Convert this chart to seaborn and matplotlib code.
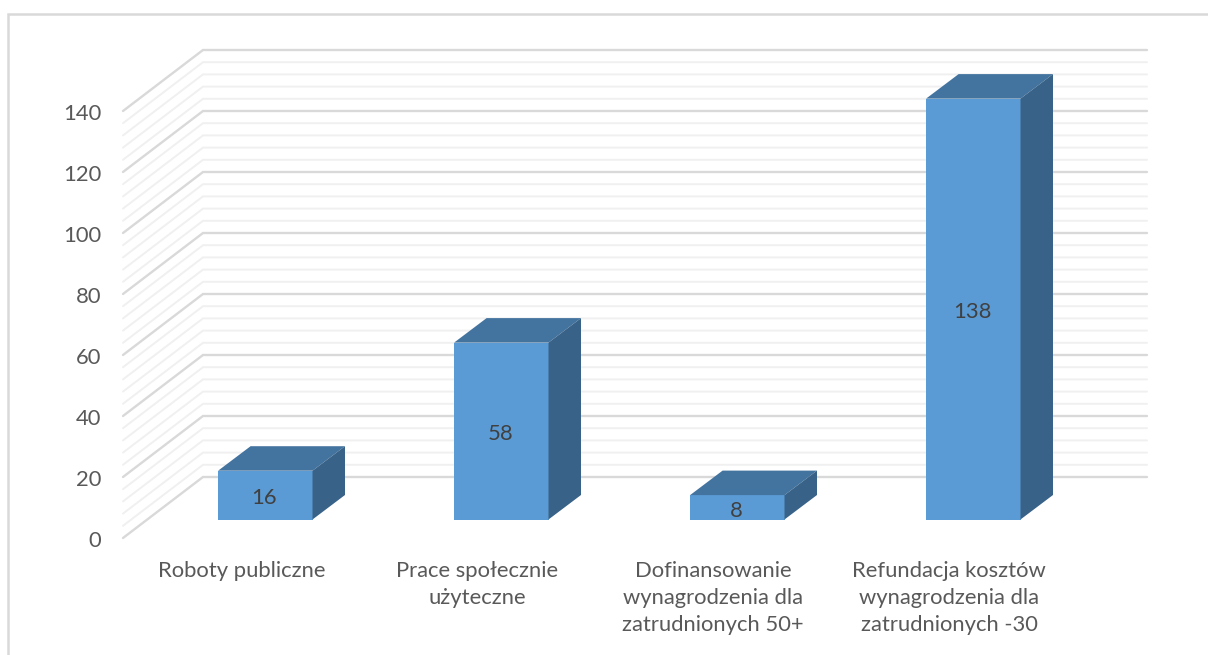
import matplotlib
matplotlib.use("Agg")
import matplotlib.pyplot as plt
import numpy as np
import seaborn as sns
from matplotlib.lines import Line2D
from matplotlib.patches import Polygon
from matplotlib.transforms import Affine2D

categories = ["Roboty publiczne", "Prace społecznie\nużyteczne",
              "Dofinansowanie\nwynagrodzenia dla\nzatrudnionych 50+",
              "Refundacja kosztów\nwynagrodzenia dla\nzatrudnionych -30"]
values = [16, 58, 8, 138]
major_ticks = [0, 20, 40, 60, 80, 100, 120, 140]
minor_step = 4

W, H = 1208, 655
FRONT, TOP, SIDE = "#5B9BD5", "#43739F", "#386287"
MAJOR, MINOR, TEXT, LABEL = "#D9D9D9", "#F0F0F0", "#595959", "#404040"
FS = 15.8

sns.set_theme(style="white")
plt.rcParams["font.family"] = ["Lato", "DejaVu Sans"]

fig = plt.figure(figsize=(W / 100, H / 100), dpi=100, facecolor="white")
ax_l, ax_r, ax_base, ax_top = 147.3, 1091.3, 519.5, 92.5
ax = fig.add_axes([ax_l / W, 1 - ax_base / H, (ax_r - ax_l) / W, (ax_base - ax_top) / H])

sns.barplot(x=categories, y=values, color=FRONT, saturation=1, width=0.4, ax=ax,
            zorder=3, linewidth=0, edgecolor="none")
ax.set_xlim(-0.5, 3.5)
ax.set_ylim(0, 140)
sns.despine(ax=ax, left=True, bottom=True)
ax.patch.set_alpha(0)

px_x = (ax_r - ax_l) / 4      # pixels per category
px_y = (ax_base - ax_top) / 140  # pixels per value unit


def shifted(x, y, dx, dy):
    return x + dx / px_x, y + dy / px_y


# walls of the pseudo-3D frame
ticks = np.arange(0, 140 + minor_step, minor_step)
for v in ticks:
    major = v in major_ticks
    p0 = shifted(-0.5, v, -24.3, -18.5)
    p1 = shifted(-0.5, v, 55.7, 42.5)
    p2 = shifted(3.5, v, 55.7, 42.5)
    ax.plot([p0[0], p1[0], p2[0]], [p0[1], p1[1], p2[1]],
            color=MAJOR if major else MINOR, lw=1.7 if major else 1.4,
            clip_on=False, zorder=1 if major else 0.9, solid_joinstyle="miter")

# depth faces of the bars
ddx, ddy = 32.5, 24.5
for bar in ax.containers[0]:
    x0, x1 = bar.get_x(), bar.get_x() + bar.get_width()
    h = bar.get_height()
    top = [(x0, h), (x1, h), shifted(x1, h, ddx, ddy), shifted(x0, h, ddx, ddy)]
    side = [(x1, 0), shifted(x1, 0, ddx, ddy), shifted(x1, h, ddx, ddy), (x1, h)]
    ax.add_patch(Polygon(top, closed=True, fc=TOP, ec="none", clip_on=False, zorder=3))
    ax.add_patch(Polygon(side, closed=True, fc=SIDE, ec="none", clip_on=False, zorder=3))

bar_texts = ax.bar_label(ax.containers[0], label_type="center", color=LABEL, fontsize=FS, zorder=5)
for t in bar_texts:
    t.xyann = (-0.7, -2.4)

# axis labels belong to the front edge of the frame
ax.grid(False)
ax.set_yticks(major_ticks)
ax.tick_params(axis="y", length=0, pad=32.5, labelsize=FS, labelcolor=TEXT)
ax.tick_params(axis="x", length=0, pad=30, labelsize=FS, labelcolor=TEXT)
for lab in ax.get_yticklabels():
    lab.set_transform(lab.get_transform() + Affine2D().translate(-0.7, -19.5))
for lab in ax.get_xticklabels():
    lab.set_transform(lab.get_transform() + Affine2D().translate(-24, 0))
    lab.set_linespacing(1.43)

# chart area border
fig.add_artist(Line2D([8 / W, 8 / W, 1], [0, 1 - 14 / H, 1 - 14 / H], color=MAJOR, lw=1.8,
                      solid_joinstyle="miter"))

fig.savefig("out.png", dpi=100, facecolor="white")
